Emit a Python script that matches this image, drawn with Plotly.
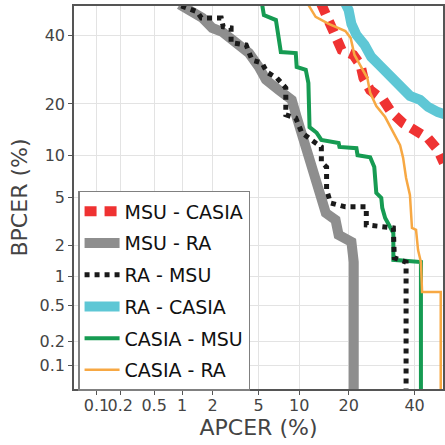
from statistics import NormalDist
import plotly.graph_objects as go

# ---- data (percent) ----
msu_casia_apcer = [13.8, 15.4, 17.1, 18.3, 21.2, 23.1, 23.9, 25.8, 29.7, 32.2, 36.1, 40.5, 44.7, 48.2, 50.3]
msu_casia_bpcer = [51.0, 45.2, 40.2, 35.3, 33.7, 30.6, 26.8, 23.5, 21.0, 18.1, 15.7, 14.3, 12.8, 10.8, 8.9]

msu_ra_apcer = [0.94, 1.6, 1.98, 2.45, 3.25, 4.18, 5.04, 5.72, 7.17, 8.87, 9.6, 10.4, 11.5, 12.8, 13.9, 14.8, 16.9, 17.6, 20.7, 21.3, 21.3]
msu_ra_bpcer = [50.5, 45.9, 42.5, 41.2, 37.6, 34.3, 30.0, 26.3, 23.5, 21.0, 17.0, 13.4, 9.7, 6.76, 5.04, 3.77, 3.3, 2.46, 2.13, 1.39, 0.03]

ra_msu_apcer = [0.98, 1.42, 1.56, 2.4, 2.5, 2.94, 2.94, 3.96, 4.43, 5.33, 5.82, 6.93, 8.05, 8.05, 9.46, 10.4, 12.8, 13.9, 13.9, 14.96, 14.96, 15.8, 19.2, 24.7, 24.7, 32.9, 33.2, 37.1, 37.1]
ra_msu_bpcer = [50.0, 48.0, 45.9, 45.9, 42.9, 42.5, 37.6, 36.9, 32.1, 31.2, 28.5, 26.8, 24.1, 17.5, 16.8, 13.8, 11.95, 11.3, 9.0, 8.33, 5.7, 4.53, 4.22, 4.22, 3.0, 2.83, 1.52, 1.39, 0.03]

ra_casia_apcer = [19.0, 20.0, 20.7, 22.0, 24.2, 26.1, 28.8, 31.9, 35.1, 38.4, 41.9, 44.7, 48.2, 51.0]
ra_casia_bpcer = [51.4, 48.6, 43.9, 40.2, 36.9, 33.1, 30.3, 27.4, 24.4, 22.0, 21.0, 19.3, 18.1, 17.5]

casia_msu_apcer = [5.33, 5.51, 6.81, 7.17, 7.41, 9.46, 9.6, 11.05, 11.5, 11.7, 13.0, 13.9, 17.6, 17.8, 22.0, 22.3, 25.8, 27.0, 27.6, 29.1, 29.4, 30.3, 31.9, 32.9, 32.9, 42.2, 42.2]
casia_msu_bpcer = [50.7, 46.9, 45.2, 39.5, 34.6, 34.3, 30.0, 29.2, 25.4, 14.9, 13.8, 12.5, 11.95, 11.3, 11.1, 10.0, 9.7, 8.33, 5.41, 4.96, 4.14, 3.43, 2.83, 2.56, 1.46, 1.39, 0.03]

casia_ra_apcer = [11.4, 12.8, 15.4, 19.2, 20.5, 21.5, 23.3, 25.0, 25.8, 27.6, 30.3, 31.6, 33.8, 35.1, 36.1, 37.1, 38.4, 38.8, 39.1, 40.5, 41.2, 42.2, 42.6, 49.2, 49.2]
casia_ra_bpcer = [50.7, 46.3, 43.9, 41.5, 39.2, 33.7, 30.0, 26.8, 22.8, 19.5, 17.0, 15.3, 13.0, 11.6, 9.6, 6.98, 5.23, 3.99, 2.83, 2.72, 1.8, 1.39, 0.70, 0.70, 0.03]

tick_vals = [0.1, 0.2, 0.5, 1, 2, 5, 10, 20, 40]
tick_text = ["0.1", "0.2", "0.5", "1", "2", "5", "10", "20", "40"]
axis_min, axis_max = 0.05, 50.0

nd = NormalDist()


def probit(vals):
    out = []
    for v in vals:
        p = min(max(v / 100.0, 1e-6), 1 - 1e-6)
        out.append(nd.inv_cdf(p))
    return out


series = [
    # name, x, y, color, width, dash, legend rank
    ("MSU - CASIA", msu_casia_apcer, msu_casia_bpcer, "#EF3232", 10, "12px,8px", 1),
    ("RA - CASIA", ra_casia_apcer, ra_casia_bpcer, "#5EC7D5", 10, "solid", 4),
    ("CASIA - MSU", casia_msu_apcer, casia_msu_bpcer, "#169B52", 4, "solid", 5),
    ("MSU - RA", msu_ra_apcer, msu_ra_bpcer, "#8E8E8E", 10, "solid", 2),
    ("RA - MSU", ra_msu_apcer, ra_msu_bpcer, "#1A1A1A", 5, "dot", 3),
    ("CASIA - RA", casia_ra_apcer, casia_ra_bpcer, "#F7A843", 2.5, "solid", 6),
]

fig = go.Figure()
for name, xs, ys, color, width, dash, rank in series:
    fig.add_trace(go.Scatter(
        x=probit(xs), y=probit(ys), mode="lines", name=name,
        line=dict(color=color, width=width, dash=dash),
        legendrank=rank, legendgroup=name,
        hoverinfo="skip",
    ))

font_family = "DejaVu Sans"
axis_common = dict(
    tickmode="array",
    tickvals=probit(tick_vals),
    ticktext=tick_text,
    tickangle=0,
    range=[nd.inv_cdf(axis_min / 100), nd.inv_cdf(axis_max / 100)],
    showgrid=True, gridcolor="#E3E3E3", gridwidth=1,
    showline=True, linecolor="#555555", linewidth=1.5, mirror=True,
    ticks="outside", ticklen=4, tickcolor="#555555",
    tickfont=dict(family=font_family, size=16, color="#444444"),
    zeroline=False,
)

fig.update_layout(
    width=445, height=445,
    margin=dict(l=74, r=0, t=6, b=56),
    paper_bgcolor="white", plot_bgcolor="white",
    font=dict(family=font_family, color="#444444"),
    xaxis=dict(axis_common, ticklabelstandoff=-3,
               title=dict(text="APCER (%)", font=dict(size=22, color="#444444"), standoff=2)),
    yaxis=dict(axis_common, title=dict(text="BPCER (%)", font=dict(size=22, color="#444444"), standoff=6)),
    legend=dict(
        x=0.011, y=0.517, xanchor="left", yanchor="top",
        bgcolor="white", bordercolor="#808080", borderwidth=1.5,
        font=dict(family=font_family, size=19, color="#111111"),
        tracegroupgap=4, itemwidth=35,
    ),
    showlegend=True,
)

fig.write_html("out.html")
